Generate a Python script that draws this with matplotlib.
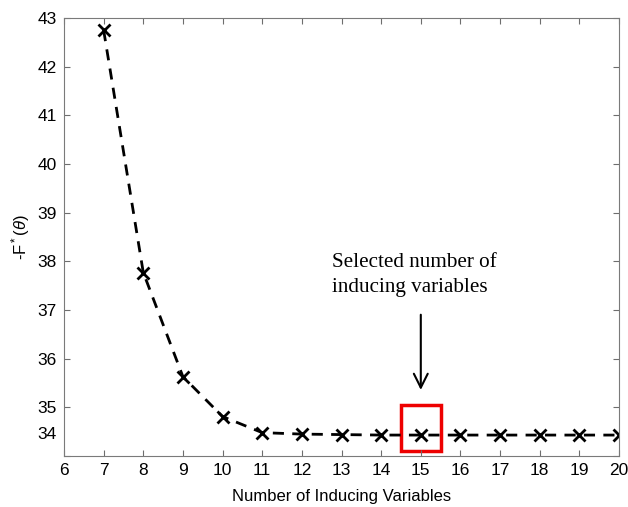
import matplotlib
matplotlib.use("Agg")
import matplotlib.pyplot as plt
import matplotlib.transforms as mtransforms
from matplotlib.patches import Rectangle

# Datos
n_inducing = [7, 8, 9, 10, 11, 12, 13, 14, 15, 16, 17, 18, 19, 20]
neg_F = [42.75, 37.77, 35.63, 34.81, 34.48, 34.45, 34.44, 34.43, 34.43, 34.43, 34.43, 34.43, 34.43, 34.43]
selected = 15
x_ticks = list(range(6, 21))
y_ticks = list(range(34, 44))

plt.rcParams['font.family'] = ['Liberation Sans', 'DejaVu Sans']
plt.rcParams['mathtext.fontset'] = 'custom'
plt.rcParams['mathtext.rm'] = 'Liberation Sans'
plt.rcParams['mathtext.it'] = 'Liberation Sans:italic'

fig = plt.figure(figsize=(6.28, 5.07), dpi=100)
ax = fig.add_axes([0.1019, 0.1006, 0.8838, 0.8639])

ax.plot(n_inducing, neg_F, linestyle='--', color='black', linewidth=2,
        dashes=(4, 3), marker='x', markersize=8, markeredgewidth=2)

ax.set_xlim(6, 20)
ax.set_ylim(34, 43)
ax.set_xticks(x_ticks)
ax.set_yticks(y_ticks)
ax.tick_params(direction='in', top=True, right=True, labelsize=12.5,
               color='#6e6e6e', length=4, pad=5)
for s in ax.spines.values():
    s.set_color('#7a7a7a')

# la etiqueta 34 esta desplazada hacia arriba en la original
lbl = ax.get_yticklabels()[0]
lbl.set_transform(lbl.get_transform() + mtransforms.ScaledTranslation(0, 0.23, fig.dpi_scale_trans))

ax.set_xlabel('Number of Inducing Variables', fontsize=12, labelpad=8)
ax.set_ylabel('-F$^*$($\\it{\\theta}$)', fontsize=12, labelpad=4)

# Caja roja y flecha
ax.add_patch(Rectangle((selected - 0.5, 34.11), 1.0, 0.94, fill=False,
                       edgecolor='#ee0000', linewidth=2.5))
ax.annotate('', xy=(selected, 35.3), xytext=(selected, 36.96),
            arrowprops=dict(arrowstyle='->', color='black', lw=1.5,
                            mutation_scale=25))
ax.text(12.75, 38.17, 'Selected number of\ninducing variables',
        family='Liberation Serif', fontsize=15.2, ha='left', va='top',
        linespacing=1.45)

fig.savefig('out.png', dpi=100)
